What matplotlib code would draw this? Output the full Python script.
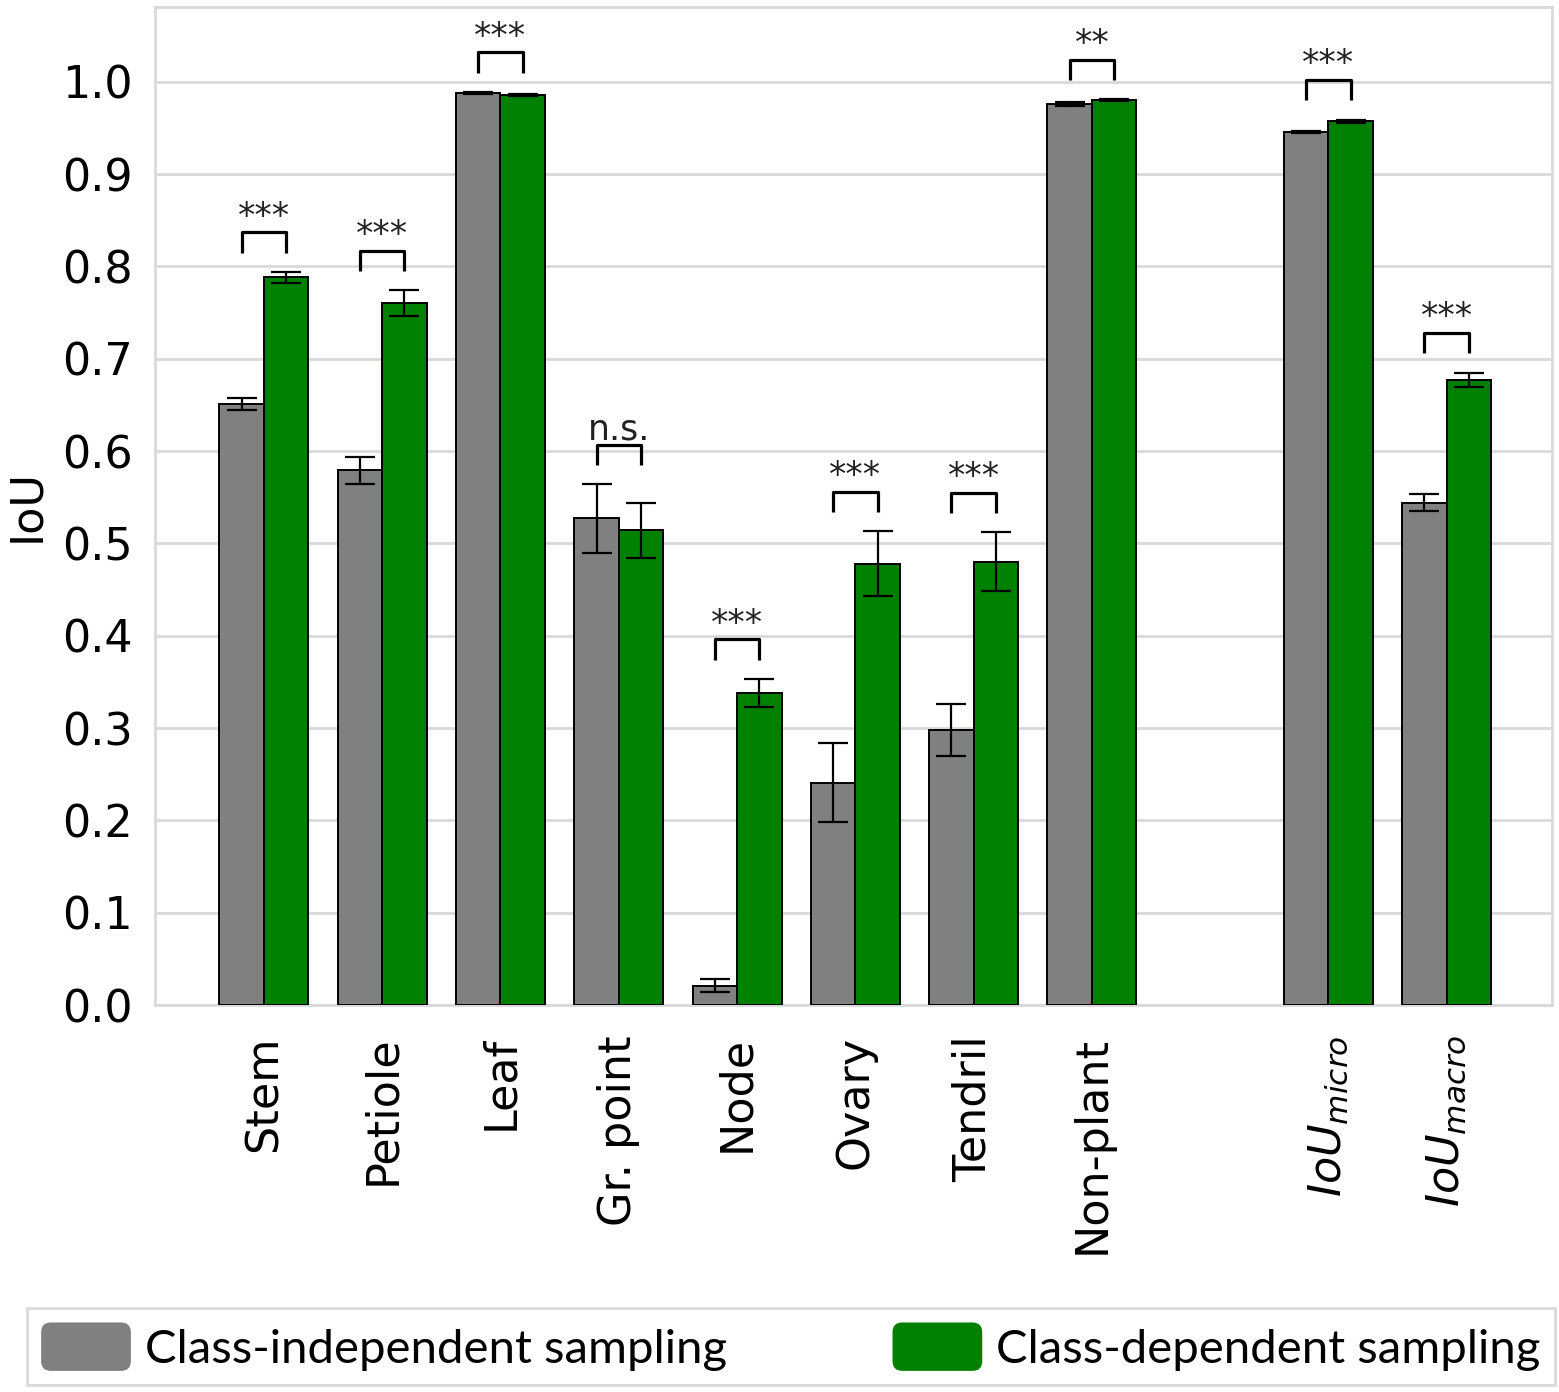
import matplotlib
matplotlib.use("Agg")
import matplotlib.pyplot as plt
import matplotlib.patches as mpatches
from matplotlib.patches import FancyBboxPatch
from matplotlib.legend_handler import HandlerPatch
import numpy as np

categories = ["Stem", "Petiole", "Leaf", "Gr. point", "Node", "Ovary", "Tendril",
              "Non-plant", "$IoU_{micro}$", "$IoU_{macro}$"]
positions = [0, 1, 2, 3, 4, 5, 6, 7, 9, 10]
indep_vals = [0.651, 0.579, 0.988, 0.527, 0.021, 0.241, 0.298, 0.976, 0.946, 0.544]
indep_err = [0.007, 0.015, 0.001, 0.037, 0.007, 0.043, 0.028, 0.002, 0.001, 0.009]
dep_vals = [0.788, 0.760, 0.986, 0.514, 0.338, 0.478, 0.480, 0.980, 0.957, 0.677]
dep_err = [0.006, 0.014, 0.001, 0.030, 0.015, 0.035, 0.032, 0.001, 0.002, 0.008]
signif = ["***", "***", "***", "n.s.", "***", "***", "***", "**", "***", "***"]
series_names = ["Class-independent sampling", "Class-dependent sampling"]
yticks = [0.0, 0.1, 0.2, 0.3, 0.4, 0.5, 0.6, 0.7, 0.8, 0.9, 1.0]

GRAY = "#808080"
GREEN = "#008000"
LIGHT = "#d9d9d9"

plt.rcParams["font.family"] = ["DejaVu Sans"]
plt.rcParams["mathtext.fontset"] = "dejavusans"

fig = plt.figure(figsize=(15.59, 13.92), dpi=100)
ax = fig.add_axes([0.0994, 0.278, 0.8961, 0.717])

w = 0.376
x = np.array(positions, dtype=float)
ekw = dict(ecolor="black", elinewidth=1.6, capthick=1.6, capsize=10.5)
ax.bar(x - w / 2, indep_vals, w, color=GRAY, edgecolor="black", linewidth=1.4,
       yerr=indep_err, error_kw=ekw, zorder=3)
ax.bar(x + w / 2, dep_vals, w, color=GREEN, edgecolor="black", linewidth=1.4,
       yerr=dep_err, error_kw=ekw, zorder=3)

# significance brackets
for xi, a, ea, b, eb, s in zip(x, indep_vals, indep_err, dep_vals, dep_err, signif):
    base = max(a + ea, b + eb) + 0.021
    top = base + 0.022
    ax.plot([xi - w / 2, xi - w / 2, xi + w / 2, xi + w / 2], [base, top, top, base],
            color="black", lw=2.3, solid_capstyle="butt", zorder=4)
    ax.text(xi, top + 0.006, s, ha="center", va="baseline", fontsize=25,
            color="#222222", family="DejaVu Sans")

ax.set_xlim(-0.921, 10.89)
ax.set_ylim(0, 1.081)
ax.set_yticks(yticks)
ax.set_yticklabels([f"{t:.1f}" for t in yticks], fontsize=32)
ax.set_xticks(x)
ax.set_xticklabels(categories, rotation=90, fontsize=32)
ax.tick_params(axis="both", length=0)
ax.tick_params(axis="y", pad=16)
ax.tick_params(axis="x", pad=22)
ax.set_ylabel("IoU", fontsize=32)
ax.yaxis.set_label_coords(-0.0766, 0.5)
ax.yaxis.grid(True, color=LIGHT, lw=2)
ax.set_axisbelow(True)
for sp in ax.spines.values():
    sp.set_color(LIGHT)
    sp.set_linewidth(2)


class RoundHandler(HandlerPatch):
    def create_artists(self, legend, orig_handle, xdescent, ydescent, width, height,
                       fontsize, trans):
        p = FancyBboxPatch((-xdescent, -ydescent), width, height,
                           boxstyle="round,pad=0,rounding_size=7",
                           facecolor=orig_handle.get_facecolor(),
                           edgecolor="none", transform=trans)
        return [p]


handles = [mpatches.Patch(color=GRAY), mpatches.Patch(color=GREEN)]
leg = fig.legend(handles, series_names, loc="lower left",
                 bbox_to_anchor=(0.0173, 0.005, 0.9801, 0.0625), mode="expand",
                 ncol=2, fancybox=False, edgecolor=LIGHT, framealpha=1,
                 prop={"family": "Lato", "size": 34},
                 handlelength=1.9, handleheight=1.2, handletextpad=0.3,
                 borderpad=0.3, borderaxespad=0,
                 handler_map={mpatches.Patch: RoundHandler()})
leg.get_frame().set_linewidth(2)

fig.savefig("out.png", dpi=100)
